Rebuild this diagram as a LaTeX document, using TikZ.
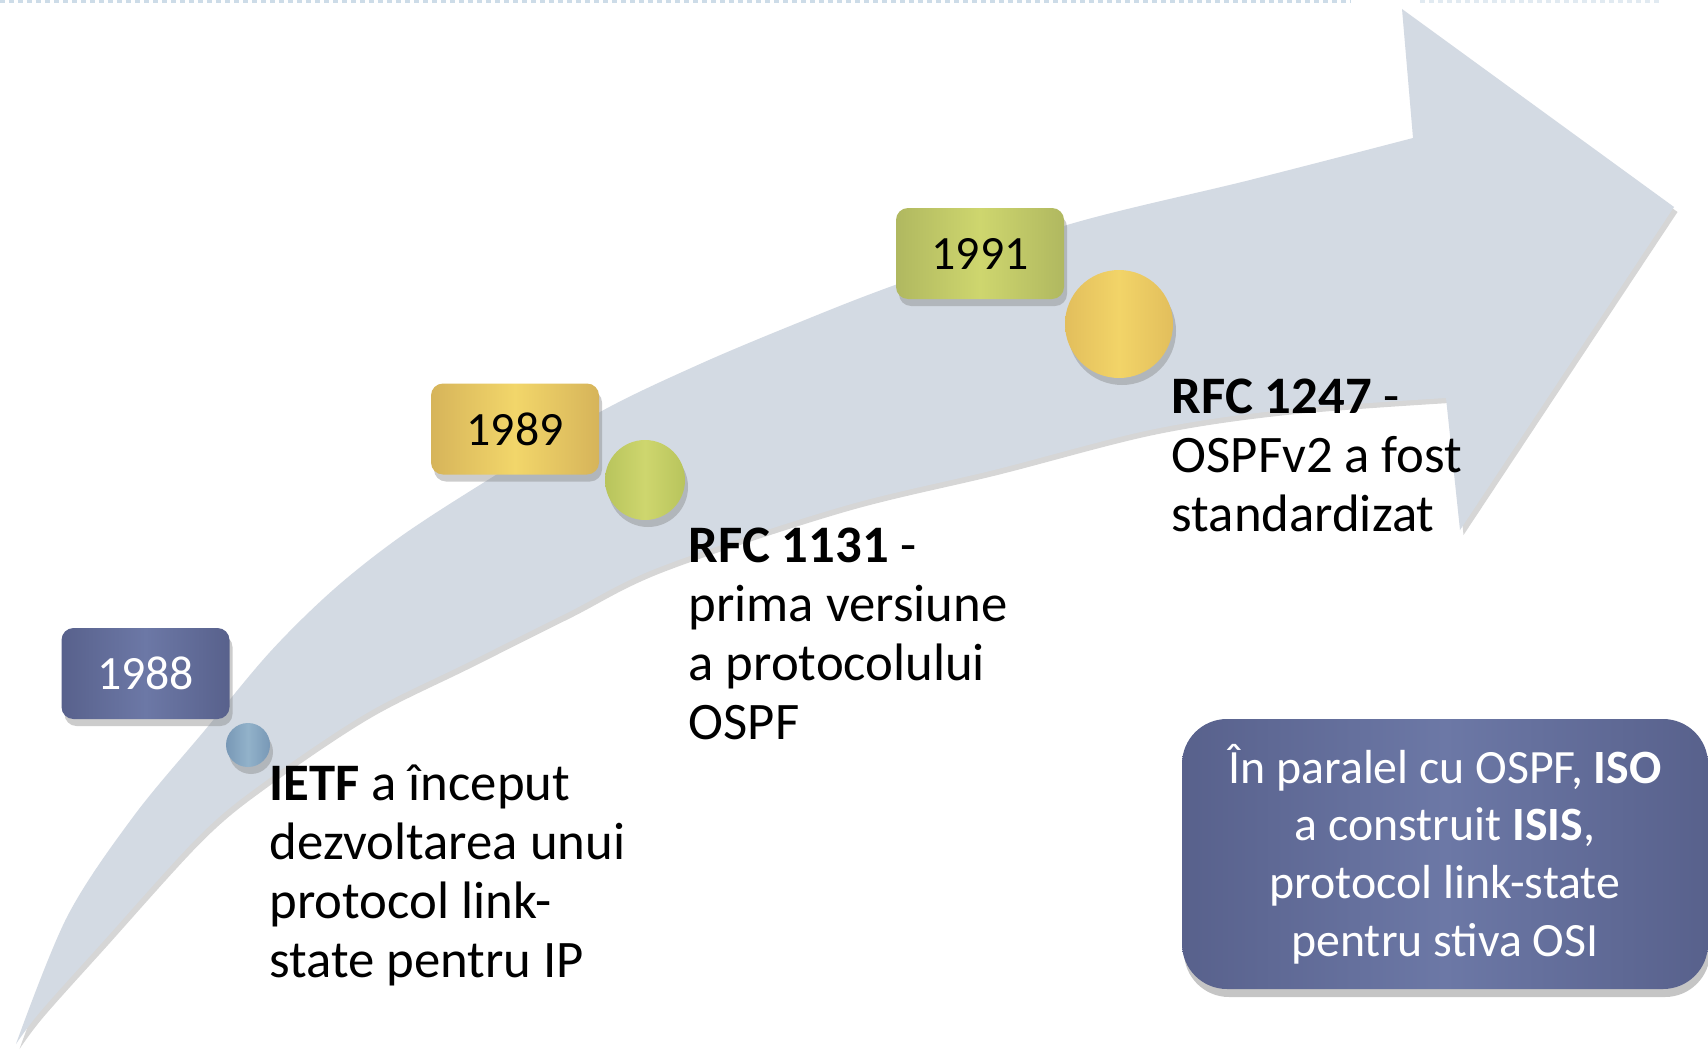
\documentclass[tikz,border=0pt]{standalone}
\usepackage{fontspec}
\setmainfont{Carlito}
\usetikzlibrary{shadows}
\definecolor{arrowgray}{RGB}{211,218,227}
\definecolor{slateA}{RGB}{88,97,140}
\definecolor{slateB}{RGB}{108,120,166}
\definecolor{goldA}{RGB}{214,180,90}
\definecolor{goldB}{RGB}{242,214,106}
\definecolor{oliveA}{RGB}{176,184,96}
\definecolor{oliveB}{RGB}{206,214,110}
\definecolor{dotblueA}{RGB}{120,152,182}
\definecolor{dotblueB}{RGB}{146,178,202}
\definecolor{dotgreenA}{RGB}{184,196,92}
\definecolor{dotgreenB}{RGB}{206,214,110}
\definecolor{dotgoldA}{RGB}{226,190,92}
\definecolor{dotgoldB}{RGB}{242,212,104}
\definecolor{topdash}{RGB}{205,220,232}
\begin{document}
\begin{tikzpicture}[x=0.1mm,y=-0.1mm,
  yearbox/.style={rounded corners=1.2mm, minimum width=16.8mm, minimum height=9.1mm,
    inner sep=0pt, font=\fontsize{13.6}{15}\selectfont,
    drop shadow={shadow xshift=0.3mm, shadow yshift=-0.7mm, opacity=0.4}},
  dot/.style={circle, inner sep=0pt,
    drop shadow={shadow xshift=0.3mm, shadow yshift=-0.7mm, opacity=0.4}},
  note/.style={anchor=north west, inner sep=0pt, align=left,
    font=\fontsize{15}{16.8}\selectfont},
  isisbox/.style={rounded corners=4.5mm, minimum width=52.6mm, minimum height=27mm,
    inner sep=0pt, align=center, text=white, font=\fontsize{13.6}{16.4}\selectfont,
    left color=slateA, right color=slateA, middle color=slateB,
    drop shadow={shadow xshift=0.2mm, shadow yshift=-0.8mm, opacity=0.45}}
]
\useasboundingbox (0,0) rectangle (1708,1050);
\fill[white] (0,0) rectangle (1708,1050);
% faint dashed line at the top
\draw[topdash, line width=0.25mm, dash pattern=on 0.5mm off 0.4mm] (0,1.5) -- (1350,1.5);
\draw[topdash!60, line width=0.25mm, dash pattern=on 0.5mm off 0.4mm] (1420,1.5) -- (1660,1.5);
% the big curved arrow
\fill[arrowgray, preaction={fill=black, opacity=0.16, transform canvas={shift={(0.35mm,-0.5mm)}}}]
  plot[smooth, tension=0.55] coordinates {(16,1044) (67,917) (133,817) (205,730) (270,652)
    (333,590) (400,537) (483,483) (600,412) (700,364) (800,322) (895,285) (1067,225)
    (1250,180) (1413,138)}
  -- (1402,9) -- (1674,207) -- (1460,530) -- (1446,398)
  -- plot[smooth, tension=0.55] coordinates {(1446,398) (1283,410) (1150,430) (994,470)
    (841,507) (660,567) (567,613) (467,663) (367,713) (267,780) (200,835) (100,945)
    (40,1012) (16,1044)}
  -- cycle;
% year boxes
\node[yearbox, text=white, left color=slateA, right color=slateA, middle color=slateB]
  (y88) at (145.5,673.5) {1988};
\node[yearbox, left color=goldA, right color=goldA, middle color=goldB]
  (y89) at (515,429) {1989};
\node[yearbox, left color=oliveA, right color=oliveA, middle color=oliveB]
  (y91) at (980,253.5) {1991};
% dots
\node[dot, minimum size=4.4mm, left color=dotblueA, right color=dotblueA, middle color=dotblueB]
  (d88) at (248,745) {};
\node[dot, minimum size=8mm, left color=dotgreenA, right color=dotgreenA, middle color=dotgreenB]
  (d89) at (645,480) {};
\node[dot, minimum size=10.8mm, left color=dotgoldA, right color=dotgoldA, middle color=dotgoldB]
  (d91) at (1119,324) {};
% texts
\node[note] (t88) at (269,764) {\textbf{IETF} a început\\dezvoltarea unui\\protocol link-\\state pentru IP};
\node[note] (t89) at (688,527) {\textbf{RFC 1131} -\\prima versiune\\a protocolului\\OSPF};
\node[note] (t91) at (1171,378) {\textbf{RFC 1247} -\\OSPFv2 a fost\\standardizat};
% ISIS box
\node[isisbox] (isis) at (1445,854) {În paralel cu OSPF, \textbf{ISO}\\a construit \textbf{ISIS},\\protocol link-state\\pentru stiva OSI};
\end{tikzpicture}
\end{document}
